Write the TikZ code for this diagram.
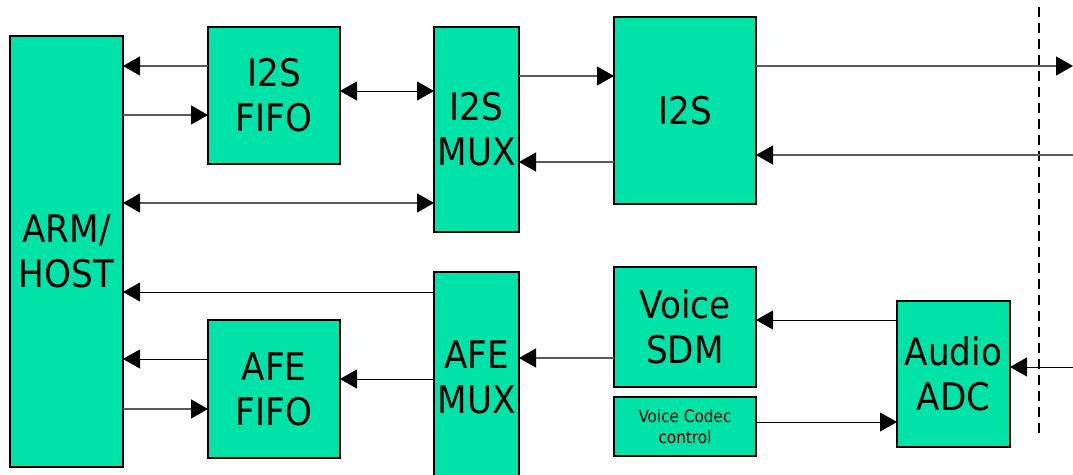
\documentclass[tikz,border=0pt]{standalone}
\usepackage{fontspec}
\setmainfont{DejaVu Sans Condensed}
\usetikzlibrary{arrows.meta}
\definecolor{boxgreen}{RGB}{0,227,168}
\definecolor{linegray}{RGB}{90,90,90}
\tikzset{
  blk/.style={draw=black, line width=1.1pt, fill=boxgreen, inner sep=0pt, outer sep=0pt,
    align=center, font=\fontsize{38}{45}\selectfont},
  small/.style={font=\fontsize{17}{21}\selectfont},
  tip/.style={-{Triangle[length=17pt,width=19pt,color=black]}},
  btip/.style={{Triangle[length=17pt,width=19pt,color=black]}-{Triangle[length=17pt,width=19pt,color=black]}},
  gl/.style={draw=linegray, line width=1.3pt},
  bl/.style={draw=black, line width=1pt},
  sep/.style={draw=black, line width=1.8pt, dash pattern=on 10pt off 6pt}
}
\begin{document}
\begin{tikzpicture}[x=1pt,y=-1pt]
\useasboundingbox (0,0) rectangle (1073,474);
\clip (0,0) rectangle (1073,474);
% blocks
\node[blk, minimum width=113pt, minimum height=431pt] (arm) at (66.5,251.5) {ARM/\\HOST};
\node[blk, minimum width=132pt, minimum height=137pt] (fifo1) at (274,95.5) {I2S\\FIFO};
\node[blk, minimum width=85pt, minimum height=205pt] (mux1) at (476.5,129.5) {I2S\\MUX};
\node[blk, minimum width=142pt, minimum height=187pt] (i2s) at (685,110.5) {I2S};
\node[blk, minimum width=142pt, minimum height=120pt] (sdm) at (685,327) {Voice\\SDM};
\node[blk, small, minimum width=142pt, minimum height=59pt] (codec) at (685,426.5) {Voice Codec\\control};
\node[blk, minimum width=113pt, minimum height=146pt] (adc) at (953.5,374) {Audio\\ADC};
\node[blk, minimum width=85pt, minimum height=210pt] (mux2) at (476.5,377) {AFE\\MUX};
\node[blk, minimum width=132pt, minimum height=138pt] (fifo2) at (274,389) {AFE\\FIFO};
% boundary
\coordinate (sepT) at (1039,7);
\coordinate (sepB) at (1039,434);
\draw[sep] (sepT) -- (sepB);
\coordinate (outT) at (1073,66);
\coordinate (inI) at (1073,155);
\coordinate (inA) at (1073,367);
% top connectors
\draw[gl, tip] (fifo1.west |- 0,66) -- (arm.east |- 0,66);
\draw[gl, tip] (arm.east |- 0,115) -- (fifo1.west |- 0,115);
\draw[bl, btip] (fifo1.east |- 0,91) -- (mux1.west |- 0,91);
\draw[gl, btip] (arm.east |- 0,203) -- (mux1.west |- 0,203);
\draw[gl, tip] (mux1.east |- 0,76) -- (i2s.west |- 0,76);
\draw[gl, tip] (i2s.west |- 0,162) -- (mux1.east |- 0,162);
\draw[gl, tip] (i2s.east |- outT) -- (outT);
\draw[gl, tip] (inI) -- (i2s.east |- inI);
% bottom connectors
\draw[bl, tip] (mux2.west |- 0,292) -- (arm.east |- 0,292);
\draw[bl, tip] (fifo2.west |- 0,359) -- (arm.east |- 0,359);
\draw[gl, tip] (arm.east |- 0,409) -- (fifo2.west |- 0,409);
\draw[bl, tip] (mux2.west |- 0,379) -- (fifo2.east |- 0,379);
\draw[gl, tip] (sdm.west |- 0,358) -- (mux2.east |- 0,358);
\draw[bl, tip] (adc.west |- 0,320) -- (sdm.east |- 0,320);
\draw[bl, tip] (codec.east |- 0,422) -- (adc.west |- 0,422);
\draw[bl, tip] (inA) -- (adc.east |- inA);
\end{tikzpicture}
\end{document}
